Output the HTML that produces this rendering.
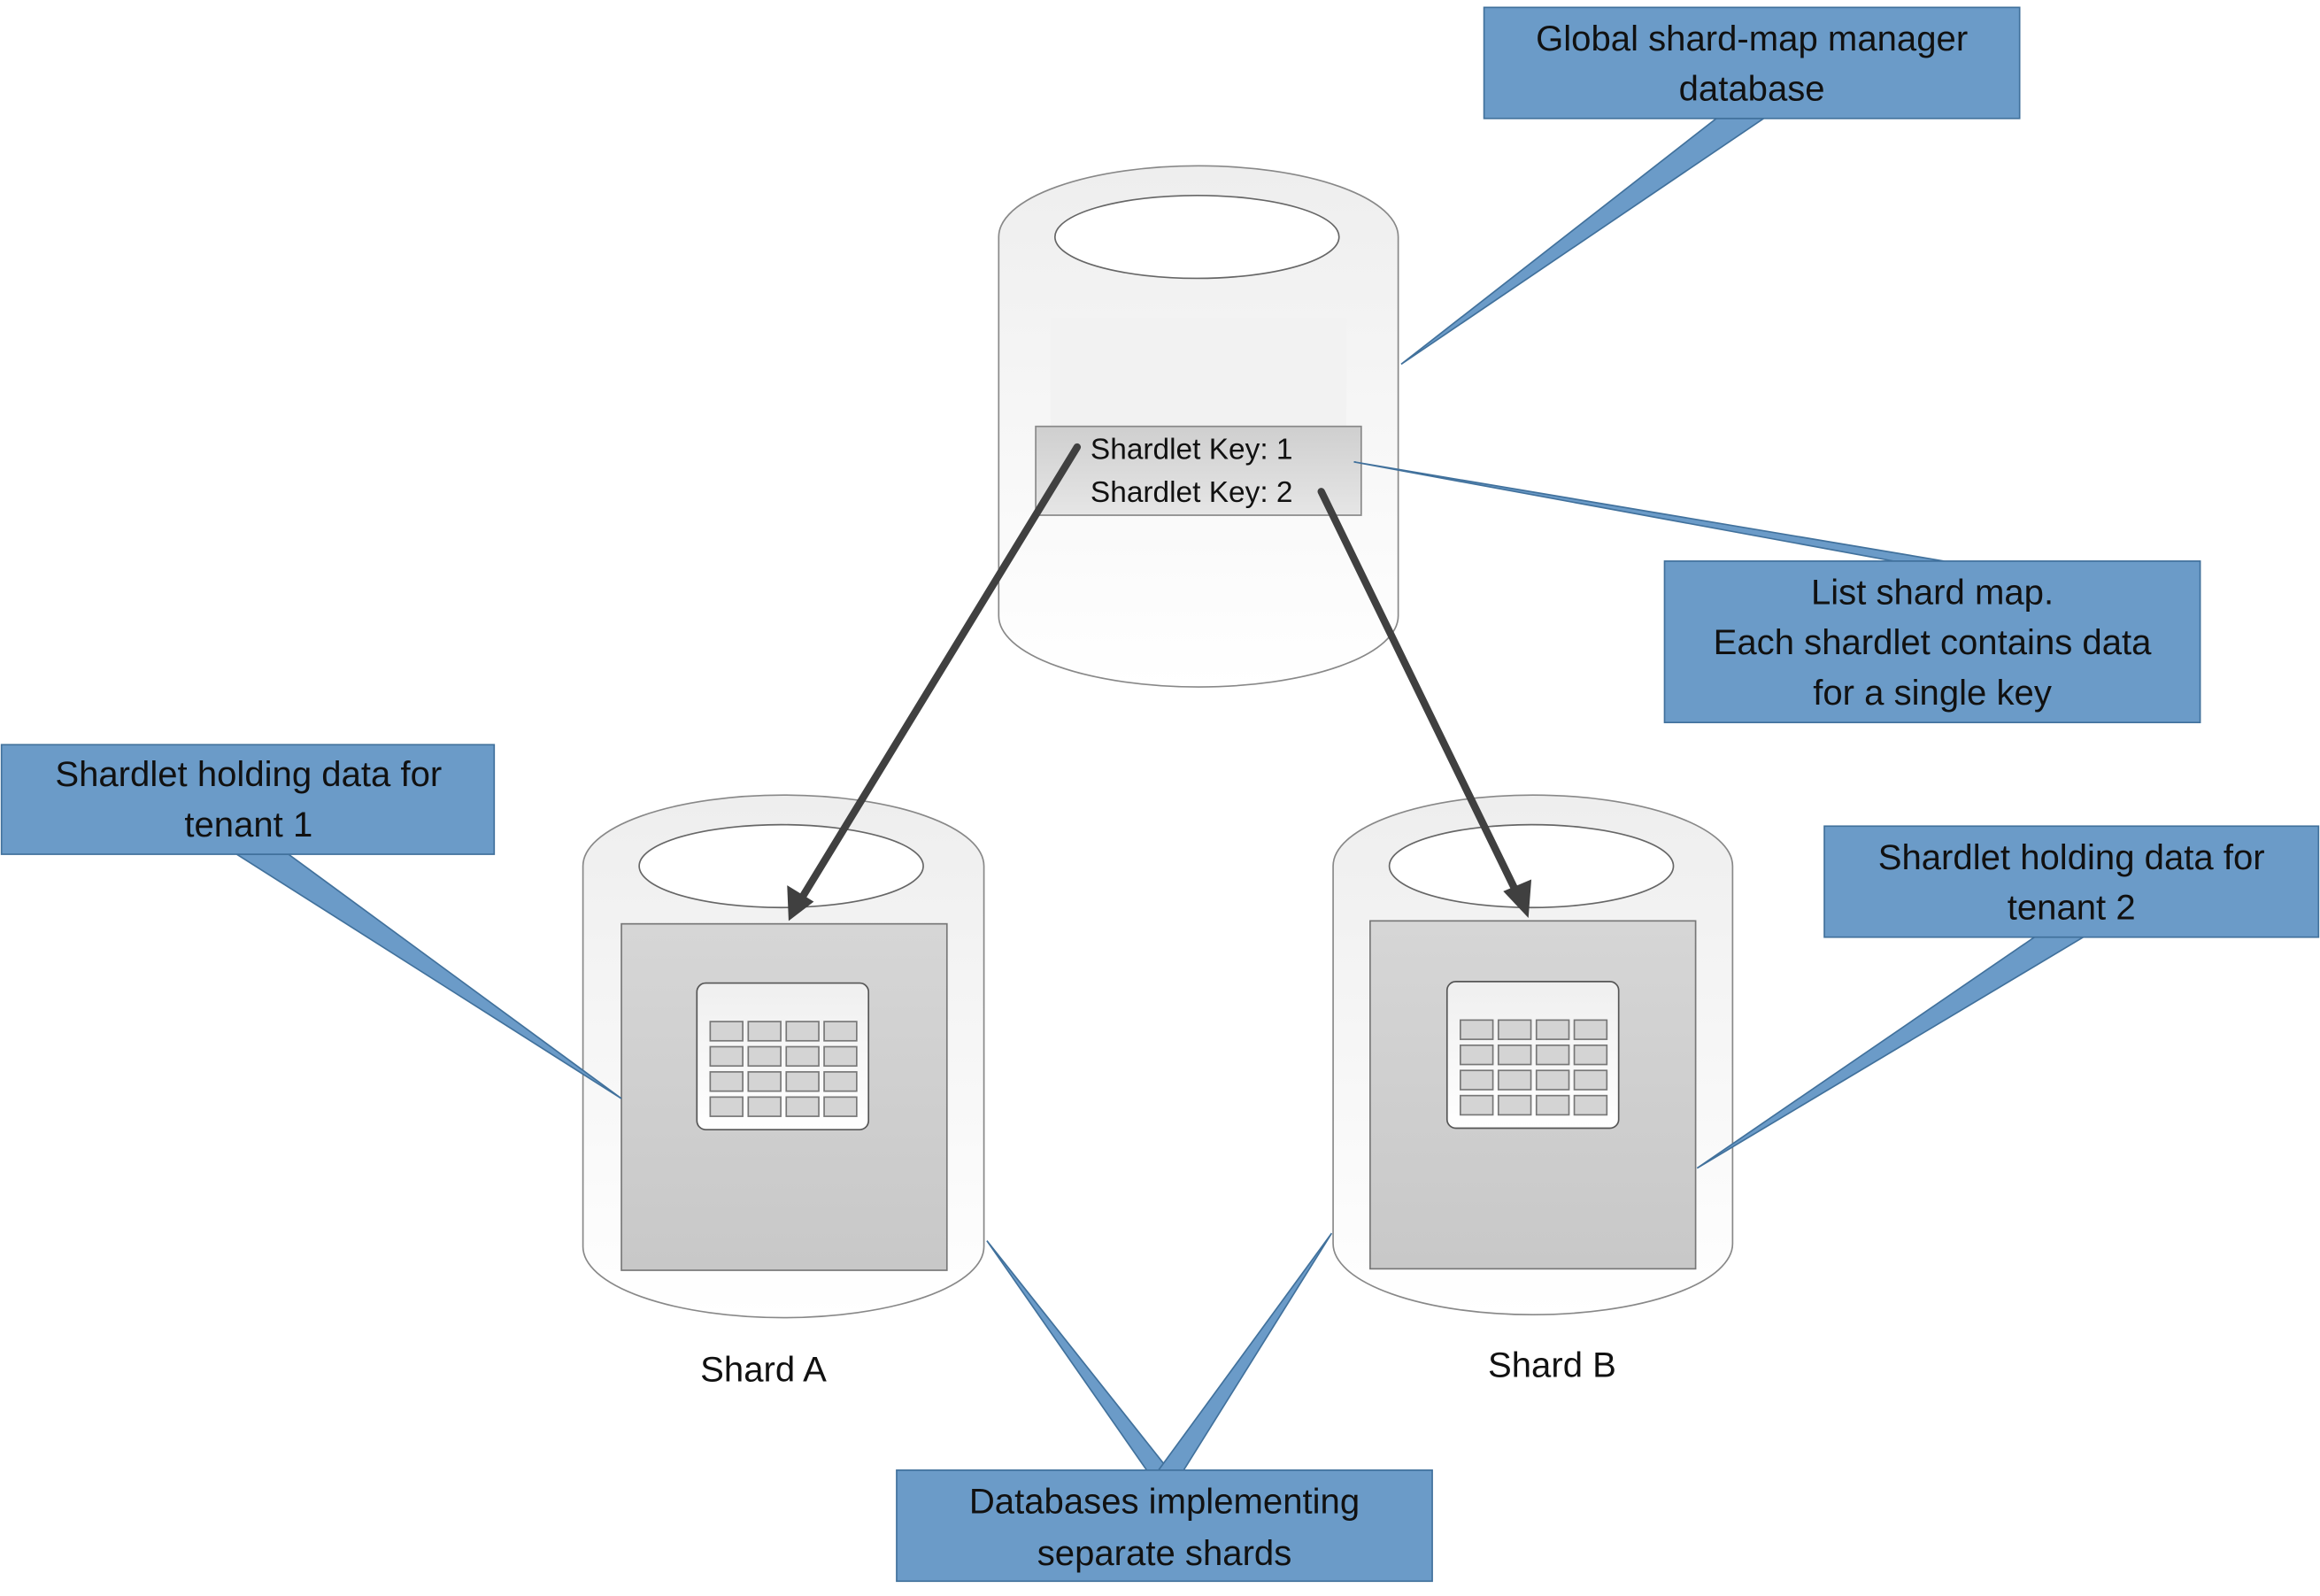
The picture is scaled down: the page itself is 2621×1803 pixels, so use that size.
<!DOCTYPE html>
<html><head><meta charset="utf-8"><style>html,body{margin:0;padding:0;background:#fff}svg{display:block}</style></head>
<body>
<svg width="2621" height="1803" viewBox="0 0 1568 1078" preserveAspectRatio="none" xmlns="http://www.w3.org/2000/svg" font-family="Liberation Sans, sans-serif">
<defs>
<linearGradient id="cyl" x1="0" y1="0" x2="0" y2="1"><stop offset="0" stop-color="#eeeeee"/><stop offset="1" stop-color="#ffffff"/></linearGradient>
<linearGradient id="box" x1="0" y1="0" x2="0" y2="1"><stop offset="0" stop-color="#d6d6d6"/><stop offset="1" stop-color="#c8c8c8"/></linearGradient>
<linearGradient id="key" x1="0" y1="0" x2="0" y2="1"><stop offset="0" stop-color="#cfcfcf"/><stop offset="1" stop-color="#e6e6e6"/></linearGradient>
<linearGradient id="ico" x1="0" y1="0" x2="0" y2="1"><stop offset="0" stop-color="#efefef"/><stop offset="1" stop-color="#ffffff"/></linearGradient>
<g id="icon">
<rect x="0" y="0" width="116" height="99" rx="6" fill="url(#ico)" stroke="#555" stroke-width="1"/>
<g fill="#d4d4d4" stroke="#777" stroke-width="1">
<rect x="9" y="26" width="22" height="13"/><rect x="34.7" y="26" width="22" height="13"/><rect x="60.4" y="26" width="22" height="13"/><rect x="86" y="26" width="22" height="13"/>
<rect x="9" y="43" width="22" height="13"/><rect x="34.7" y="43" width="22" height="13"/><rect x="60.4" y="43" width="22" height="13"/><rect x="86" y="43" width="22" height="13"/>
<rect x="9" y="60" width="22" height="13"/><rect x="34.7" y="60" width="22" height="13"/><rect x="60.4" y="60" width="22" height="13"/><rect x="86" y="60" width="22" height="13"/>
<rect x="9" y="77" width="22" height="13"/><rect x="34.7" y="77" width="22" height="13"/><rect x="60.4" y="77" width="22" height="13"/><rect x="86" y="77" width="22" height="13"/>
</g></g>
</defs>

<!-- top cylinder -->
<path d="M675,160 A135,48 0 0 1 945,160 L945,416 A135,48 0 0 1 675,416 Z" fill="url(#cyl)" stroke="#888" stroke-width="1"/>
<ellipse cx="809" cy="160" rx="96" ry="28" fill="#fff" stroke="#666" stroke-width="1"/>
<rect x="710" y="215" width="200" height="75" fill="#f2f2f2"/>
<rect x="700" y="288" width="220" height="60" fill="url(#key)" stroke="#888" stroke-width="1"/>
<text x="737" y="310" font-size="20" fill="#111">Shardlet Key: 1</text>
<text x="737" y="339" font-size="20" fill="#111">Shardlet Key: 2</text>

<!-- Shard A -->
<path d="M394,585 A135.5,48 0 0 1 665,585 L665,842 A135.5,48 0 0 1 394,842 Z" fill="url(#cyl)" stroke="#888" stroke-width="1"/>
<ellipse cx="528" cy="585" rx="96" ry="28" fill="#fff" stroke="#666" stroke-width="1"/>
<rect x="420" y="624" width="220" height="234" fill="url(#box)" stroke="#777" stroke-width="1"/>
<use href="#icon" x="471" y="664"/>
<text x="516" y="933" font-size="24" text-anchor="middle" fill="#111">Shard A</text>

<!-- Shard B -->
<path d="M901,585 A135,48 0 0 1 1171,585 L1171,840 A135,48 0 0 1 901,840 Z" fill="url(#cyl)" stroke="#888" stroke-width="1"/>
<ellipse cx="1035" cy="585" rx="96" ry="28" fill="#fff" stroke="#666" stroke-width="1"/>
<rect x="926" y="622" width="220" height="235" fill="url(#box)" stroke="#777" stroke-width="1"/>
<use href="#icon" x="978" y="663"/>
<text x="1049" y="930" font-size="24" text-anchor="middle" fill="#111">Shard B</text>

<!-- arrows -->
<g stroke="#404040" stroke-width="5" stroke-linecap="round" fill="#404040">
<line x1="728" y1="302" x2="541" y2="608"/>
<line x1="893" y1="332" x2="1026" y2="605"/>
</g>
<polygon points="533,622 532,598 550,609" fill="#404040"/>
<polygon points="1033,620 1016,602 1035,594" fill="#404040"/>

<!-- callouts -->
<g fill="#6b9bc8" stroke="#41719c" stroke-width="1">
<polygon points="1160,80 1192,80 947,246"/>
<polygon points="1280,379 1314,379 915,312"/>
<polygon points="160,577 195,577 420,742"/>
<polygon points="1375,633 1408,633 1147,789"/>
<polygon points="775,993 790,993 667,838"/>
<polygon points="783,993 800,993 900,833"/>
<rect x="1003" y="5" width="362" height="75"/>
<rect x="1125" y="379" width="362" height="109"/>
<rect x="1" y="503" width="333" height="74"/>
<rect x="1233" y="558" width="334" height="75"/>
<rect x="606" y="993" width="362" height="75"/>
</g>
<g font-size="24" fill="#111" text-anchor="middle">
<text x="1184" y="34">Global shard-map manager</text>
<text x="1184" y="68">database</text>
<text x="1306" y="408">List shard map.</text>
<text x="1306" y="442">Each shardlet contains data</text>
<text x="1306" y="476">for a single key</text>
<text x="168" y="531">Shardlet holding data for</text>
<text x="168" y="565">tenant 1</text>
<text x="1400" y="587">Shardlet holding data for</text>
<text x="1400" y="621">tenant 2</text>
<text x="787" y="1022">Databases implementing</text>
<text x="787" y="1057">separate shards</text>
</g>
</svg>
</body></html>
